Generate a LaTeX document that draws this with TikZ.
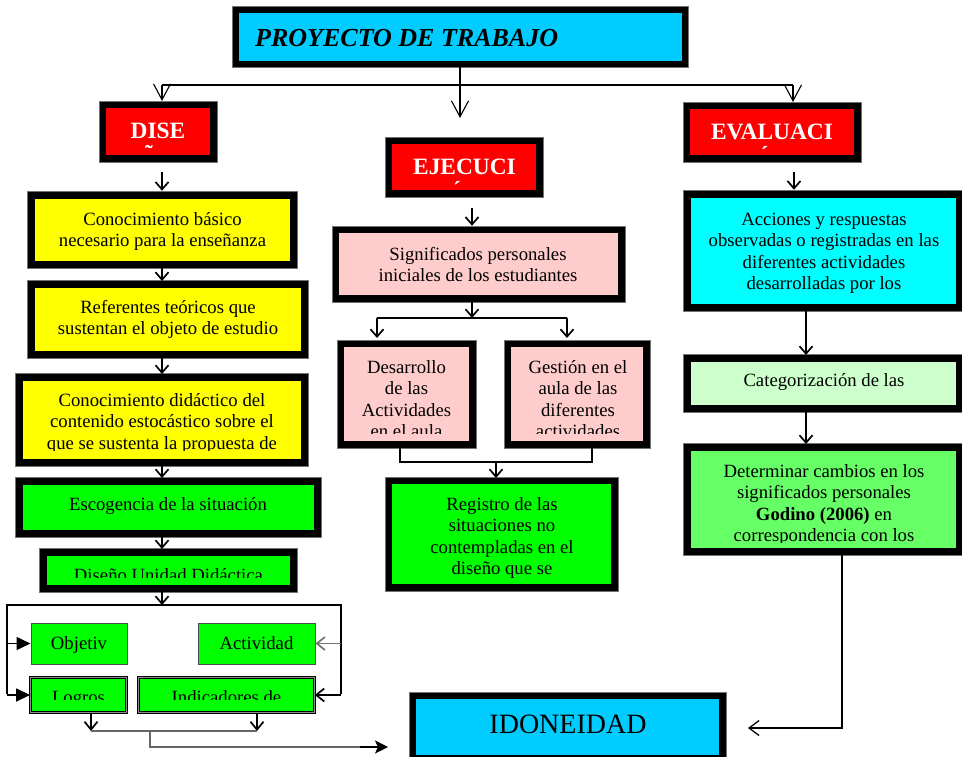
\documentclass[tikz,border=0pt]{standalone}
\usepackage{fontspec}
\setmainfont{Liberation Serif}
\usetikzlibrary{arrows.meta,calc,fit}
\definecolor{tcyan}{HTML}{00CCFF}
\definecolor{hred}{HTML}{FF0000}
\definecolor{yel}{HTML}{FFFF00}
\definecolor{pnk}{HTML}{FFCCCC}
\definecolor{grn}{HTML}{00FF00}
\definecolor{acy}{HTML}{00FFFF}
\definecolor{lgrn}{HTML}{CCFFCC}
\definecolor{mgrn}{HTML}{66FF66}
\newcommand\fl{\rule{0pt}{1em}}
% name, x1, y1, x2, y2, fill colour, frame thickness
\newcommand\frm[7]{%
  \node[frameline, fit={(#2,#3)(#4,#5)}] (#1) {};
  \fill[#6] (#2+#7,#3+#7) rectangle (#4-#7,#5-#7);
}
\tikzset{
  frameline/.style={fill=black, draw=black!55, line width=0.5pt, inner sep=0pt},
  body/.style={font=\fontsize{18.7}{21.5}\selectfont, align=center, inner sep=0pt, anchor=north},
  hdr/.style={font=\fontsize{23.4}{27}\selectfont\bfseries, text=white, align=center, inner sep=0pt, anchor=north},
  thinln/.style={line width=1.1pt},
  ln/.style={line width=1.7pt},
  vtip/.style={-{Straight Barb[length=16pt,width=17pt]}, line width=1.1pt},
  arr/.style={ln, -{Straight Barb[length=7.5pt,width=13pt]}},
  tri/.style={line width=1.5pt, -{Triangle[length=14pt,width=13pt]}},
  barb/.style={line width=1.7pt, -{Straight Barb[length=8pt,width=13pt]}},
  smallbox/.style={draw=black!70, line width=1pt, fill=grn, inner sep=0pt, text height=12.4pt, text depth=0pt, font=\fontsize{18.7}{21.5}\selectfont},
  dblbox/.style={draw=black, line width=0.8pt, double=black!45, double distance=1.6pt, fill=grn, inner sep=0pt},
}
\begin{document}
\begin{tikzpicture}[x=1pt,y=-1pt]
\useasboundingbox (0,0) rectangle (962,756);

% ---------- frames ----------
\frm{title}{232}{6}{688}{67}{tcyan}{6.5}
\frm{dise}{99}{101}{217}{162}{hred}{7}
\frm{ejec}{385}{137}{543}{197}{hred}{7}
\frm{eval}{683}{102}{861}{162}{hred}{7}
\frm{conb}{27}{191}{297}{268}{yel}{7.5}
\frm{refs}{27}{280}{308}{358}{yel}{7.5}
\frm{cdid}{15}{373}{308}{466}{yel}{7.5}
\frm{esco}{15}{477}{321}{537}{grn}{7.5}
\frm{udid}{39}{548}{297}{592}{grn}{7.5}
\frm{sig}{332}{226}{625}{302}{pnk}{7}
\frm{desa}{337}{340}{476}{448}{pnk}{7}
\frm{gest}{504}{340}{650}{448}{pnk}{7}
\frm{regi}{385}{477}{618}{591}{grn}{7}
\frm{acci}{683}{190}{963}{311}{acy}{7.5}
\frm{cate}{683}{354}{963}{412}{lgrn}{7.5}
\frm{dete}{683}{443}{963}{555}{mgrn}{7.5}
\frm{idon}{409}{692}{726}{762}{tcyan}{7}

\node[smallbox, minimum width=96pt, minimum height=41pt] (obj) at (79,643.5) {Objetiv};
\node[smallbox, minimum width=117pt, minimum height=41pt] (act) at (256.5,643.5) {Actividad};
\node[dblbox, minimum width=96pt, minimum height=35pt] (log) at (78.5,695) {};
\node[dblbox, minimum width=176pt, minimum height=35pt] (ind) at (226.5,695) {};

% ---------- texts ----------
\node[font=\fontsize{26}{30}\selectfont\bfseries\itshape, anchor=base west, inner sep=0pt] (t-title) at (255,46) {PROYECTO DE TRABAJO};

\begin{scope}\clip (106,108) rectangle (210,147.5);
\node[hdr] (t-dise) at (158,138-23.4) {\fl DISE\\ÑO};\end{scope}
\begin{scope}\clip (392,144) rectangle (537,184.5);
\node[hdr] (t-ejec) at (464.5,174-23.4) {\fl EJECUCI\\ÓN};\end{scope}
\begin{scope}\clip (690,108) rectangle (854,148.5);
\node[hdr] (t-eval) at (772,139-23.4) {\fl EVALUACI\\ÓN};\end{scope}

\node[body] (t-conb) at (162.5,225-18.7) {\fl Conocimiento básico\\necesario para la enseñanza};
\node[body] (t-refs) at (168,313-18.7) {\fl Referentes teóricos que\\sustentan el objeto de estudio};
\begin{scope}\clip (23,380) rectangle (302,450);
\node[body] (t-cdid) at (162,406-18.7) {\fl Conocimiento didáctico del\\contenido estocástico sobre el\\que se sustenta la propuesta de};\end{scope}
\node[body] (t-esco) at (168,510-18.7) {\fl Escogencia de la situación};
\begin{scope}\clip (47,555) rectangle (290,577);
\node[body] (t-udid) at (168.5,581-18.7) {\fl Diseño Unidad Didáctica};\end{scope}
\begin{scope}\clip (33,680) rectangle (124,699.5);
\node[body] (t-log) at (78.5,703-18.7) {\fl Logros};\end{scope}
\begin{scope}\clip (141,680) rectangle (312,699.5);
\node[body] (t-ind) at (226.5,703-18.7) {\fl Indicadores de};\end{scope}

\node[body] (t-sig) at (478,260-18.7) {\fl Significados personales\\iniciales de los estudiantes};
\begin{scope}\clip (344,347) rectangle (469,433);
\node[body] (t-desa) at (406.5,373-18.7) {\fl Desarrollo\\de las\\Actividades\\en el aula};\end{scope}
\begin{scope}\clip (511,347) rectangle (643,433);
\node[body] (t-gest) at (578,373-18.7) {\fl Gestión en el\\aula de las\\diferentes\\actividades};\end{scope}
\node[body] (t-regi) at (502,510-18.7) {\fl Registro de las\\situaciones no\\contempladas en el\\diseño que se};

\node[body] (t-acci) at (824,225-18.7) {\fl Acciones y respuestas\\observadas o registradas en las\\diferentes actividades\\desarrolladas por los};
\node[body] (t-cate) at (824,386-18.7) {\fl Categorización de las};
\begin{scope}\clip (691,450) rectangle (957,542);
\node[body] (t-dete) at (824,477-18.7) {\fl Determinar cambios en los\\significados personales\\\textbf{Godino (2006)} en\\correspondencia con los};\end{scope}

\node[font=\fontsize{28}{32}\selectfont, anchor=base, inner sep=0pt] (t-idon) at (568,733) {IDONEIDAD};

% ---------- connectors: top ----------
\coordinate (ejtip) at (460,118);
\draw[vtip] (title.south) -- (ejtip);
\draw[thinln] (162,85) -- (793,85);
\draw[vtip] (162,85) -- (162,101);
\draw[vtip] (793,85) -- (793,102);

% ---------- left column ----------
\coordinate (s1) at (162,172);
\draw[arr] (s1) -- (s1 |- conb.north);
\draw[arr] (162,266) -- (162,281);
\draw[arr] (162,356) -- (162,374);
\draw[arr] (162,464) -- (162,478);
\draw[arr] (162,535) -- (162,549);
\coordinate (br) at (162,605);
\draw[arr] (162,590) -- (br);
\draw[line width=1.4pt] (7,694) -- (7,605) -- (341,605) -- (341,694);
\draw[tri] (7,643.5) -- (obj.west);
\draw[tri] (7,695) -- (log.west);
\draw[barb, draw=black!55] (341,643.5) -- (act.east);
\draw[barb] (341,695) -- (ind.east);
\coordinate (lb) at (91,731);
\coordinate (rb) at (257,731);
\draw[barb] (log.south -| lb) -- (lb);
\draw[barb] (ind.south -| rb) -- (rb);
\draw[line width=1.4pt, draw=black!60] (lb) -- (rb);
\coordinate (ib) at (388,747);
\draw[line width=1.4pt, draw=black!60] (150,731) -- (150,747) -- (370,747);
\draw[line width=1.4pt, -{Stealth[length=13pt,width=13pt,inset=3pt]}] (360,747) -- (ib);

% ---------- middle column ----------
\coordinate (s2) at (472,208);
\draw[arr] (s2) -- (s2 |- sig.north);
\draw[arr] (472,300) -- (472,318);
\draw[ln] (377,318) -- (567,318);
\draw[arr] (377,318) -- (377,338);
\draw[arr] (567,318) -- (567,338);
\draw[line width=1.4pt] (400,448) -- (400,462) -- (592,462) -- (592,448);
\draw[arr] (496,462) -- (496,478);

% ---------- right column ----------
\coordinate (s3) at (794,172);
\draw[arr] (s3) -- (s3 |- acci.north);
\draw[arr] (806,310) -- (806,355);
\draw[arr] (806,411) -- (806,444);
\coordinate (it) at (748,728);
\draw[line width=1.3pt, -{Straight Barb[length=10pt,width=15pt]}] (842,555) -- (842,728) -- (it);
\end{tikzpicture}
\end{document}
